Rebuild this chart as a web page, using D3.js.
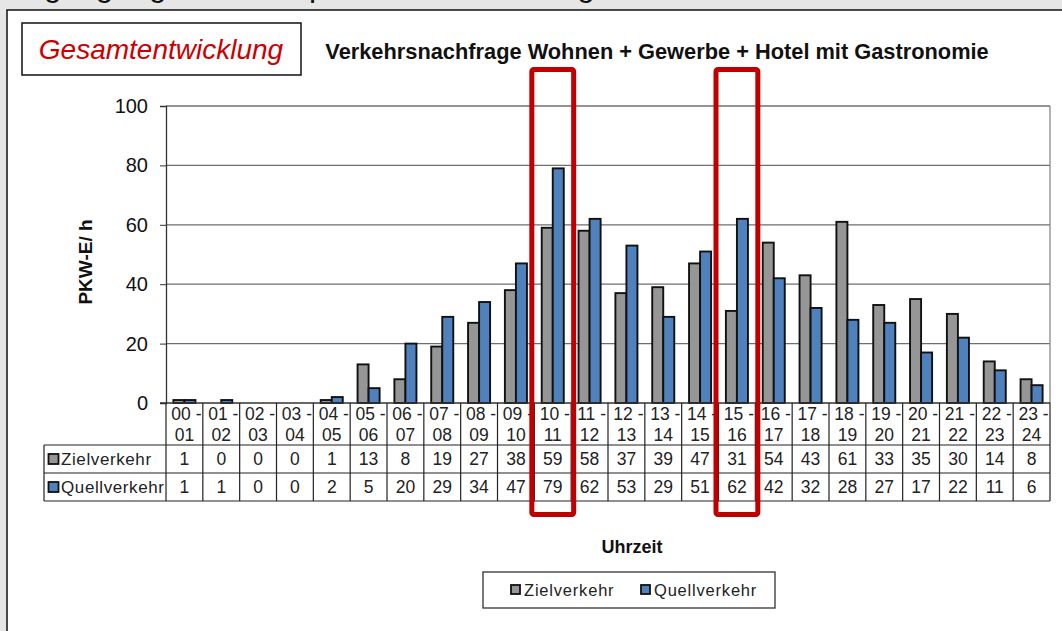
<!DOCTYPE html>
<html>
<head>
<meta charset="utf-8">
<script src="https://cdn.jsdelivr.net/npm/d3@7"></script>
<style>
  html, body { margin: 0; padding: 0; background: #e6e6e6; }
  svg { display: block; font-family: "Liberation Sans", Arial, sans-serif; }
</style>
</head>
<body>
<svg id="chart" width="1062" height="631"></svg>
<script>
// Hourly traffic demand (PKW-E per hour)
const categories = ["00 - 01","01 - 02","02 - 03","03 - 04","04 - 05","05 - 06","06 - 07","07 - 08",
  "08 - 09","09 - 10","10 - 11","11 - 12","12 - 13","13 - 14","14 - 15","15 - 16",
  "16 - 17","17 - 18","18 - 19","19 - 20","20 - 21","21 - 22","22 - 23","23 - 24"];
const zielverkehr  = [1,0,0,0,1,13,8,19,27,38,59,58,37,39,47,31,54,43,61,33,35,30,14,8];
const quellverkehr = [1,1,0,0,2,5,20,29,34,47,79,62,53,29,51,62,42,32,28,27,17,22,11,6];
const seriesNames  = ["Zielverkehr","Quellverkehr"];
const seriesColors = ["#969696","#4f81bd"];
const yTicks = [0,20,40,60,80,100];
const highlighted = ["10 - 11","15 - 16"];

const svg = d3.select("#chart");

// page heading running off the top edge
svg.append("text").attr("x", 10).attr("y", -4)
  .attr("font-size", 32).attr("fill", "#111")
  .text("Tagesganglinie der Spitzenstunden – Tagesverkehr");

// white sheet
svg.append("rect").attr("x", 7).attr("y", 10).attr("width", 1070).attr("height", 640)
  .attr("fill", "#fff").attr("stroke", "#111").attr("stroke-width", 1.5);

// badge
svg.append("rect").attr("x", 22).attr("y", 23).attr("width", 279).attr("height", 52)
  .attr("fill", "#fff").attr("stroke", "#111").attr("stroke-width", 1.5);
svg.append("text").attr("x", 161).attr("y", 59).attr("text-anchor", "middle")
  .attr("font-size", 28).attr("font-style", "italic").attr("fill", "#cc0000")
  .text("Gesamtentwicklung");

svg.append("text").attr("x", 657).attr("y", 59).attr("text-anchor", "middle")
  .attr("font-size", 21.8).attr("font-weight", "bold").attr("fill", "#111")
  .text("Verkehrsnachfrage Wohnen + Gewerbe + Hotel mit Gastronomie");

// scales
const x = d3.scaleBand().domain(categories).range([166, 1050]).paddingInner(0).paddingOuter(0);
const x1 = d3.scaleBand().domain(seriesNames).range([0, x.bandwidth()]).paddingInner(0).paddingOuter(0.67);
const y = d3.scaleLinear().domain([0, 100]).range([403, 106]);

// gridlines
svg.append("g").selectAll("line").data(yTicks.filter(t => t > 0)).join("line")
  .attr("x1", 166).attr("x2", 1050).attr("y1", d => y(d)).attr("y2", d => y(d))
  .attr("stroke", "#6f6f6f").attr("stroke-width", 1.3);
svg.append("line").attr("x1", 1050).attr("x2", 1050).attr("y1", y(100)).attr("y2", y(0))
  .attr("stroke", "#888").attr("stroke-width", 1.3);

// y axis
const yAxis = d3.axisLeft(y).tickValues(yTicks).tickSize(6).tickPadding(12);
const gy = svg.append("g").attr("transform", "translate(166,0)").call(yAxis);
gy.select(".domain").attr("stroke", "#333").attr("stroke-width", 1.3);
gy.selectAll(".tick line").attr("stroke", "#333");
gy.selectAll(".tick text").attr("font-size", 20).attr("fill", "#111")
  .attr("font-family", "Liberation Sans, Arial, sans-serif");

svg.append("text").attr("transform", "translate(92,262) rotate(-90)")
  .attr("text-anchor", "middle").attr("font-size", 19).attr("font-weight", "bold").attr("fill", "#111")
  .text("PKW-E/ h");

// bars
const series = [zielverkehr, quellverkehr];
const gBars = svg.append("g");
series.forEach((vals, si) => {
  gBars.append("g").selectAll("rect").data(vals).join("rect")
    .attr("x", (d, i) => x(categories[i]) + x1(seriesNames[si]))
    .attr("y", d => y(d))
    .attr("width", x1.bandwidth())
    .attr("height", d => y(0) - y(d))
    .attr("fill", seriesColors[si])
    .attr("stroke", "#111").attr("stroke-width", 1.9);
});

// x baseline
svg.append("line").attr("x1", 160).attr("x2", 1050).attr("y1", y(0)).attr("y2", y(0))
  .attr("stroke", "#333").attr("stroke-width", 1.3);

// data table
const rowTop = 403, headBottom = 445, row1Bottom = 473, row2Bottom = 501;
const tbl = svg.append("g").attr("stroke", "#222").attr("stroke-width", 1.2);
categories.forEach(c => {
  tbl.append("line").attr("x1", x(c)).attr("x2", x(c)).attr("y1", rowTop).attr("y2", row2Bottom);
});
tbl.append("line").attr("x1", 1050).attr("x2", 1050).attr("y1", rowTop).attr("y2", row2Bottom);
tbl.append("line").attr("x1", 44).attr("x2", 44).attr("y1", headBottom).attr("y2", row2Bottom);
[headBottom, row1Bottom, row2Bottom].forEach(yy => {
  tbl.append("line").attr("x1", 44).attr("x2", 1050).attr("y1", yy).attr("y2", yy);
});

const gHead = svg.append("g").attr("font-size", 17.5).attr("fill", "#222").attr("text-anchor", "middle");
categories.forEach(c => {
  const [a, b] = c.split(" - ");
  const cx = x(c) + x.bandwidth() / 2;
  gHead.append("text").attr("x", cx + 2).attr("y", 420).text(a + " -");
  gHead.append("text").attr("x", cx).attr("y", 441).text(b);
});

const rows = [[headBottom, row1Bottom], [row1Bottom, row2Bottom]];
series.forEach((vals, si) => {
  const mid = (rows[si][0] + rows[si][1]) / 2;
  svg.append("rect").attr("x", 48.5).attr("y", mid - 5).attr("width", 10).attr("height", 10)
    .attr("fill", seriesColors[si]).attr("stroke", "#111").attr("stroke-width", 1.8);
  svg.append("text").attr("x", 61).attr("y", mid + 6).attr("font-size", 17).attr("fill", "#222")
    .attr("letter-spacing", 0.6).text(seriesNames[si]);
  svg.append("g").attr("font-size", 17.5).attr("fill", "#222").attr("text-anchor", "middle")
    .selectAll("text").data(vals).join("text")
    .attr("x", (d, i) => x(categories[i]) + x.bandwidth() / 2)
    .attr("y", mid + 6).text(d => d);
});

// x axis title
svg.append("text").attr("x", 632).attr("y", 553).attr("text-anchor", "middle")
  .attr("font-size", 18).attr("font-weight", "bold").attr("fill", "#111").text("Uhrzeit");

// legend
const lg = svg.append("g");
lg.append("rect").attr("x", 483).attr("y", 572).attr("width", 292).attr("height", 36)
  .attr("fill", "#fff").attr("stroke", "#333").attr("stroke-width", 1.3);
const legendX = [511, 641];
seriesNames.forEach((n, i) => {
  lg.append("rect").attr("x", legendX[i]).attr("y", 585).attr("width", 9).attr("height", 9)
    .attr("fill", seriesColors[i]).attr("stroke", "#111").attr("stroke-width", 1.8);
  lg.append("text").attr("x", legendX[i] + 13).attr("y", 596).attr("font-size", 16.5)
    .attr("letter-spacing", 0.8).attr("fill", "#222").text(n);
});

// highlighted hours
svg.append("g").selectAll("rect").data(highlighted).join("rect")
  .attr("x", d => x(d) - 2.5).attr("y", 69.5)
  .attr("width", x.bandwidth() + 5).attr("height", 445)
  .attr("rx", 2).attr("fill", "none").attr("stroke", "#c00000").attr("stroke-width", 5);
</script>
</body>
</html>
